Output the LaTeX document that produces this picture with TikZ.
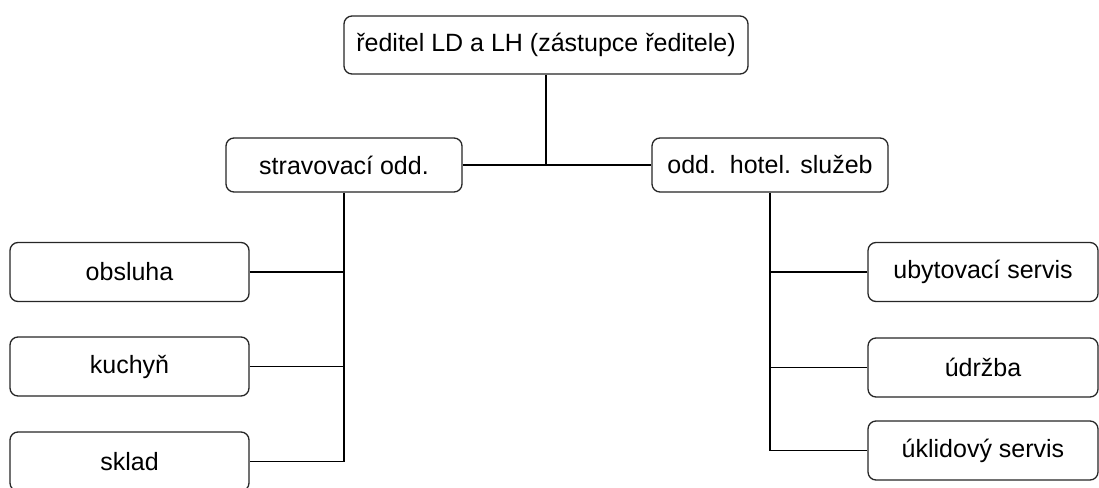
\documentclass[tikz,border=0pt]{standalone}
\usepackage{fontspec}
\setmainfont{Liberation Sans}
\begin{document}
\begin{tikzpicture}[x=1pt,y=-1pt,
  unit/.style={draw=black!85, line width=1.3pt, rounded corners=8pt, fill=white,
    align=center, inner sep=0pt, font=\fontsize{25}{30}\selectfont},
  link/.style={draw=black, line width=1.5pt}]
\useasboundingbox (0,0) rectangle (1099,487);

% top management
\node[unit, minimum width=404pt, minimum height=58pt] (dir) at (546,45) {ředitel LD a LH (zástupce ředitele)};

% departments
\node[unit, minimum width=236pt, minimum height=54pt] (strav) at (344,165) {stravovací odd.};
\node[unit, minimum width=236pt, minimum height=54pt] (hotel) at (770,165) {odd.\ \ hotel. služeb};

% food service units
\node[unit, minimum width=239pt, minimum height=59pt] (obs) at (129.5,272) {obsluha};
\node[unit, minimum width=239pt, minimum height=59pt] (kuch) at (129.5,366.5) {kuchyň};
\node[unit, minimum width=239pt, minimum height=59pt] (skl) at (129.5,461.5) {sklad};

% hotel service units
\node[unit, minimum width=230pt, minimum height=59pt] (ubyt) at (983,272) {ubytovací servis};
\node[unit, minimum width=230pt, minimum height=59pt] (udr) at (983,367.5) {údržba};
\node[unit, minimum width=230pt, minimum height=59pt] (ukl) at (983,450.5) {úklidový servis};

% connectors
\draw[link] (strav.east) -- (hotel.west);
\draw[link] (dir.south) -- (dir.south |- strav.east);

\draw[link] (strav.south) |- (skl.east);
\draw[link] (obs.east) -- (obs.east -| strav.south);
\draw[link] (kuch.east) -- (kuch.east -| strav.south);

\draw[link] (hotel.south) |- (ukl.west);
\draw[link] (ubyt.west) -- (ubyt.west -| hotel.south);
\draw[link] (udr.west) -- (udr.west -| hotel.south);
\end{tikzpicture}
\end{document}
